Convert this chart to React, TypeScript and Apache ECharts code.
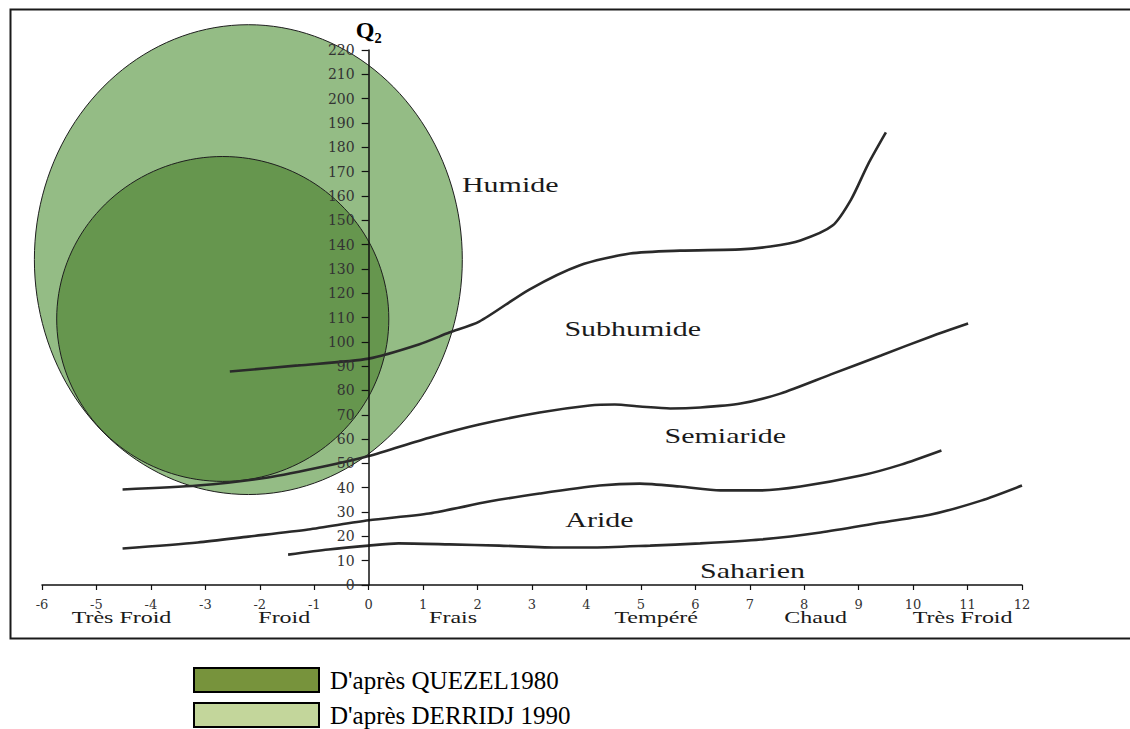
import React, { useEffect, useRef } from "react";
import * as echarts from "echarts";

// Climagramme d'Emberger : m (°C) en abscisse, Q2 en ordonnée
const X_MIN = -6;
const X_MAX = 12;
const Y_MIN = 0;
const Y_MAX = 220;

// Limites entre étages bioclimatiques [m, Q2]
const limitHumideSubhumide = [
  [-2.55, 87.8], [-1.29, 90.3], [0, 93.1], [0.92, 98.9], [1.48, 103.8], [2.03, 108.3],
  [2.95, 121.5], [3.87, 131.4], [4.8, 136.3], [5.72, 137.5], [6.83, 138], [7.38, 139.2],
  [7.93, 141.7], [8.52, 147.8], [8.86, 158.5], [9.17, 172.9], [9.5, 186.1],
];
const limitSubhumideSemiaride = [
  [-4.52, 39.3], [-3.14, 40.9], [-1.85, 44.2], [-0.74, 49.1], [0, 53], [1.11, 60.6],
  [2.03, 66], [3.14, 70.9], [4.06, 73.8], [4.52, 74.2], [4.98, 73.4], [5.54, 72.6],
  [6.09, 73], [6.83, 74.6], [7.56, 78.7], [8.49, 86.6], [9.41, 94.4], [10.33, 102.2], [11.01, 107.5],
];
const limitSemiarideAride = [
  [-4.52, 15], [-3.14, 17.5], [-2.21, 19.9], [-1.11, 22.8], [0, 26.6], [1.11, 29.4],
  [2.21, 34.3], [3.14, 37.6], [4.24, 40.9], [4.98, 41.7], [5.72, 40.5], [6.46, 38.9],
  [7.2, 38.9], [7.93, 40.5], [9.04, 45], [9.78, 49.5], [10.52, 55.3],
];
const limitArideSaharien = [
  [-1.48, 12.5], [-0.74, 14.6], [0, 16.2], [0.55, 17.1], [1.48, 16.7], [2.4, 16.2],
  [3.51, 15.4], [4.06, 15.4], [5.17, 16.2], [6.09, 17.1], [7.2, 18.7], [8.3, 21.6],
  [9.41, 25.7], [10.33, 29], [11.25, 34.7], [12, 40.9],
];

// Aires de répartition [centre m, centre Q2, demi-axe m, demi-axe Q2]
const ellipseDerridj = [[-2.21, 133.8, 3.93, 96.6]];
const ellipseQuezel = [[-2.68, 109.4, 3.05, 66.8]];

// Noms des étages [m, Q2, nom]
const stageLabels = [
  [2.6, 164.3, "Humide"],
  [4.85, 105, "Subhumide"],
  [6.55, 61.1, "Semiaride"],
  [4.24, 26.5, "Aride"],
  [7.05, 5.6, "Saharien"],
];
// Variantes thermiques sous l'axe [m, Q2, nom]
const winterLabels = [
  [-4.54, -13.4, "Très Froid"],
  [-1.55, -13.4, "Froid"],
  [1.55, -13.4, "Frais"],
  [5.28, -13.4, "Tempéré"],
  [8.21, -13.4, "Chaud"],
  [10.91, -13.4, "Très Froid"],
];

const NAME_QUEZEL = "D'après QUEZEL1980";
const NAME_DERRIDJ = "D'après DERRIDJ 1990";

const W = 1130;
const H = 729;
const GRID = { left: 42, right: 108, top: 50, bottom: 144 };
// the Q2 axis stands at m = 0, inside the grid
const yAxisOffset = -((0 - X_MIN) / (X_MAX - X_MIN)) * (W - GRID.left - GRID.right);

function ellipseSeries(name: string, data: number[][], fill: string) {
  return {
    type: "custom",
    name,
    data,
    clip: false,
    encode: { x: 0, y: 1 },
    z: 1,
    renderItem: (params: any, api: any) => {
      const cx = api.value(0);
      const cy = api.value(1);
      const rx = api.value(2);
      const ry = api.value(3);
      const pts: number[][] = [];
      const n = 160;
      for (let i = 0; i < n; i++) {
        const t = (i / n) * Math.PI * 2;
        pts.push(api.coord([cx + rx * Math.cos(t), cy + ry * Math.sin(t)]));
      }
      return {
        type: "polygon",
        shape: { points: pts },
        style: { fill, stroke: "#1e1e1e", lineWidth: 1 },
      };
    },
  };
}

function textSeries(name: string, data: any[], fontSize: number, z: number) {
  return {
    type: "custom",
    name,
    data,
    clip: false,
    encode: { x: 0, y: 1 },
    z,
    silent: true,
    renderItem: (params: any, api: any) => {
      const item = data[params.dataIndex];
      const p = api.coord([item[0], item[1]]);
      return {
        type: "text",
        x: p[0],
        y: p[1],
        scaleX: 1.5,
        style: {
          text: item[2],
          fontFamily: "Liberation Serif",
          fontSize,
          fill: "#1a1a1a",
          align: "center",
          verticalAlign: "middle",
        },
      };
    },
  };
}

function lineSeries(name: string, data: number[][]) {
  return {
    type: "line",
    name,
    data,
    smooth: 0.25,
    showSymbol: false,
    symbol: "none",
    z: 5,
    lineStyle: { color: "#2a2a2a", width: 2.6 },
  };
}

export default function App() {
  const ref = useRef<HTMLDivElement>(null);
  useEffect(() => {
    document.body.style.margin = "0";
    const chart = echarts.init(ref.current!, null, { renderer: "svg" });
    chart.setOption({
      animation: false,
      backgroundColor: "#ffffff",
      grid: { ...GRID, containLabel: false },
      xAxis: {
        type: "value",
        min: X_MIN,
        max: X_MAX,
        interval: 1,
        splitLine: { show: false },
        axisLine: { show: true, lineStyle: { color: "#111", width: 1.5 } },
        axisTick: { show: true, length: 5, lineStyle: { color: "#111", width: 1.2 } },
        axisLabel: { fontFamily: "DejaVu Serif", fontSize: 13, color: "#333", margin: 13 },
      },
      yAxis: {
        type: "value",
        min: Y_MIN,
        max: Y_MAX,
        interval: 10,
        position: "left",
        offset: yAxisOffset,
        name: "Q₂",
        nameLocation: "end",
        nameGap: 8,
        nameTextStyle: { fontFamily: "Liberation Serif", fontWeight: "bold", fontSize: 24, color: "#000" },
        splitLine: { show: false },
        axisLine: { show: true, onZero: false, lineStyle: { color: "#111", width: 1.5 } },
        axisTick: { show: true, length: 7, lineStyle: { color: "#111", width: 1.2 } },
        axisLabel: { fontFamily: "DejaVu Serif", fontSize: 14, color: "#333", margin: 14 },
        z: 10,
      },
      legend: {
        left: 188,
        top: 662,
        height: 120,
        orient: "vertical",
        itemWidth: 125,
        itemHeight: 24,
        itemGap: 9,
        icon: "rect",
        selectedMode: false,
        data: [
          { name: NAME_QUEZEL, itemStyle: { color: "#77933c", borderColor: "#000", borderWidth: 2 } },
          { name: NAME_DERRIDJ, itemStyle: { color: "#c3d69b", borderColor: "#000", borderWidth: 2 } },
        ],
        textStyle: {
          fontFamily: "Liberation Serif",
          fontSize: 25,
          color: "#000",
          padding: [0, 0, 0, 6],
        },
      },
      graphic: [
        {
          type: "rect",
          left: 8,
          top: 7,
          shape: { width: 1140, height: 629 },
          style: { fill: "none", stroke: "#1a1a1a", lineWidth: 2 },
          silent: true,
        },
      ],
      series: [
        ellipseSeries(NAME_DERRIDJ, ellipseDerridj, "#94bc85"),
        ellipseSeries(NAME_QUEZEL, ellipseQuezel, "#66964e"),
        lineSeries("Humide / Subhumide", limitHumideSubhumide),
        lineSeries("Subhumide / Semiaride", limitSubhumideSemiaride),
        lineSeries("Semiaride / Aride", limitSemiarideAride),
        lineSeries("Aride / Saharien", limitArideSaharien),
        textSeries("Étages", stageLabels, 20, 6),
        textSeries("Variantes", winterLabels, 16, 6),
      ],
    });
    return () => chart.dispose();
  }, []);
  return <div ref={ref} style={{ width: W, height: H }} />;
}
